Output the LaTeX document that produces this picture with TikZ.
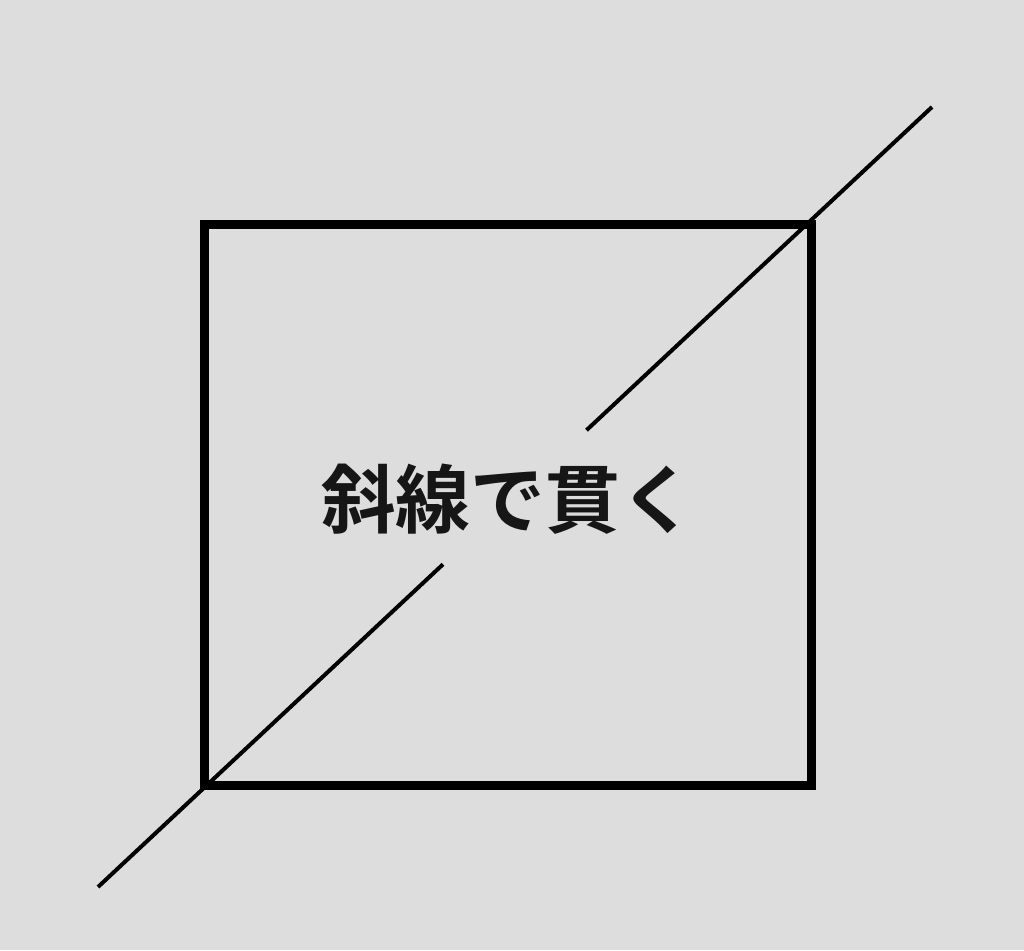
\documentclass[tikz,border=0pt]{standalone}
\usepackage{fontspec}
\newfontfamily\cjk{Noto Sans CJK JP}[BoldFont={Noto Sans CJK JP Bold}]
\usetikzlibrary{positioning}
\definecolor{bggray}{HTML}{DDDDDD}
\definecolor{inkgray}{HTML}{161616}

\begin{document}
\begin{tikzpicture}[x=0.02cm, y=-0.02cm,
  boxline/.style={black, line width=0.18cm},
  slash/.style={black, line width=0.08cm}]

\fill[bggray] (0,0) rectangle (1024,950);
\useasboundingbox (0,0) rectangle (1024,950);

\draw[boxline] (204.5,224) rectangle (811.5,785);

\coordinate (lo) at (98,887);
\coordinate (lotip) at (443,564.3);
\coordinate (hitip) at (586.5,430.2);
\coordinate (hi) at (932,107);

\draw[slash] (lo) -- (lotip);
\draw[slash] (hitip) -- (hi);

\node[inkgray] (word) at (508,499) {\cjk\bfseries\fontsize{42.5pt}{42.5pt}\selectfont 斜線で貫く};

\end{tikzpicture}
\end{document}
